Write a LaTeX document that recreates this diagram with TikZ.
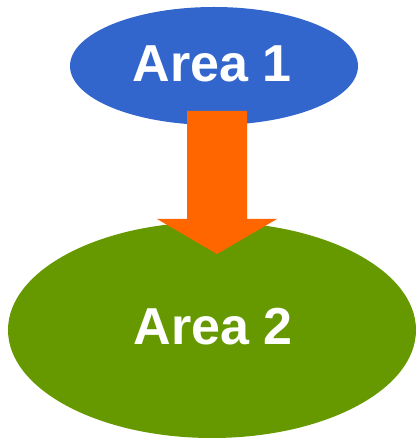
\documentclass[tikz,border=0pt]{standalone}
\usepackage{fontspec}
\setmainfont{Liberation Sans}
\definecolor{areablue}{HTML}{3366CC}
\definecolor{areagreen}{HTML}{669900}
\definecolor{arroworange}{HTML}{FF6600}
\begin{document}
\begin{tikzpicture}[x=1pt,y=1pt,
  area/.style={fill=#1,draw=none},
  lbl/.style={text=white,font=\fontsize{52}{52}\selectfont\bfseries,anchor=base,inner sep=0pt}]
\useasboundingbox (0,0) rectangle (416,439);
% ellipses
\fill[areablue] (214,373) ellipse [x radius=144, y radius=59];
\fill[areagreen] (212,109) ellipse [x radius=204, y radius=108];
\coordinate (a1) at (214,373);
\coordinate (a2) at (212,109);
\node[lbl] (t1) at (212,357) {Area 1};
\node[lbl] (t2) at (213,94) {Area 2};
% arrow
\coordinate (top) at (217,328);
\coordinate (tip) at (217,185);
\fill[arroworange] ([xshift=-30]top) -- ([xshift=30]top) -- (247,220) -- (277,220) -- (tip) -- (157,220) -- (187,220) -- cycle;
\end{tikzpicture}
\end{document}
